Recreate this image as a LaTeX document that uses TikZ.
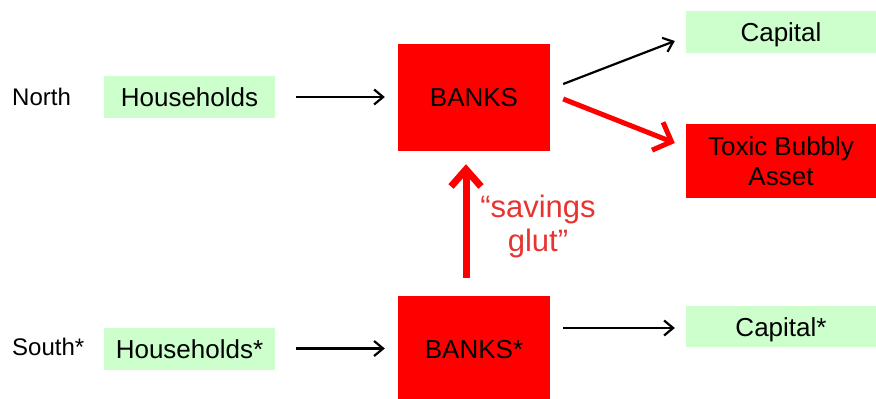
\documentclass[tikz,border=0pt]{standalone}
\usepackage{fontspec}
\setmainfont{Liberation Sans}
\usetikzlibrary{arrows.meta}
\definecolor{bankred}{RGB}{255,0,0}
\definecolor{fundgreen}{RGB}{204,255,204}
\definecolor{glutred}{RGB}{232,52,48}

\begin{document}
\begin{tikzpicture}[
    x=1pt, y=-1pt,
    fund/.style={fill=fundgreen, minimum width=171pt, minimum height=42pt, inner sep=0pt, text height=19pt, text depth=0pt, font=\fontsize{26}{30}\selectfont},
    bank/.style={fill=bankred, minimum width=152pt, minimum height=107pt, inner sep=0pt, font=\fontsize{26}{30}\selectfont, align=center},
    region/.style={anchor=west, inner sep=0pt, font=\fontsize{24}{28}\selectfont},
    arrow/.style={-{Straight Barb[length=9pt,width=15pt]}, line width=2.2pt},
    redarrow/.style={-{Straight Barb[length=15pt,width=30pt]}, line width=5pt, draw=bankred}
]
    \useasboundingbox (0,0) rectangle (876,399);

    % North
    \node[region] (north) at (12,97) {North};
    \node[fund] (hh) at (189.5,97) {Households};
    \node[bank] (banks) at (474,97.5) {BANKS};
    \node[fund, minimum width=190pt] (cap) at (781,32) {Capital};
    \node[bank, minimum width=190pt, minimum height=74pt] (toxic) at (781,161) {Toxic Bubbly\\Asset};

    % South
    \node[region] (south) at (12,347) {South*};
    \node[fund] (hhs) at (189.5,348.5) {Households*};
    \node[bank, minimum height=108pt] (bankss) at (474,350) {BANKS*};
    \node[fund, minimum width=190pt, minimum height=41pt] (caps) at (781,326.5) {Capital*};

    \node[text=glutred, font=\fontsize{31}{34}\selectfont, align=center] (glut) at (538,226) {“savings\\glut”};

    \draw[arrow, shorten <=21pt, shorten >=13pt] (hh.east) -- (hh.east -| banks.west);
    \draw[arrow] ([shift={(13,-13.5)}]banks.east) -- ([shift={(-11,9)}]cap.west);
    \draw[redarrow] ([shift={(13,1.5)}]banks.east) -- ([shift={(-11,-18)}]toxic.west);
    \draw[redarrow, line width=7pt, -{Straight Barb[length=17pt,width=30pt]}] ([shift={(-8,-18)}]bankss.north) -- ([shift={(-8,13)}]banks.south);
    \draw[arrow, shorten <=21pt, shorten >=13pt] (hhs.east) -- (hhs.east -| bankss.west);
    \draw[arrow] ([shift={(13,-22)}]bankss.east) -- ([shift={(-11,1.5)}]caps.west);
\end{tikzpicture}
\end{document}
